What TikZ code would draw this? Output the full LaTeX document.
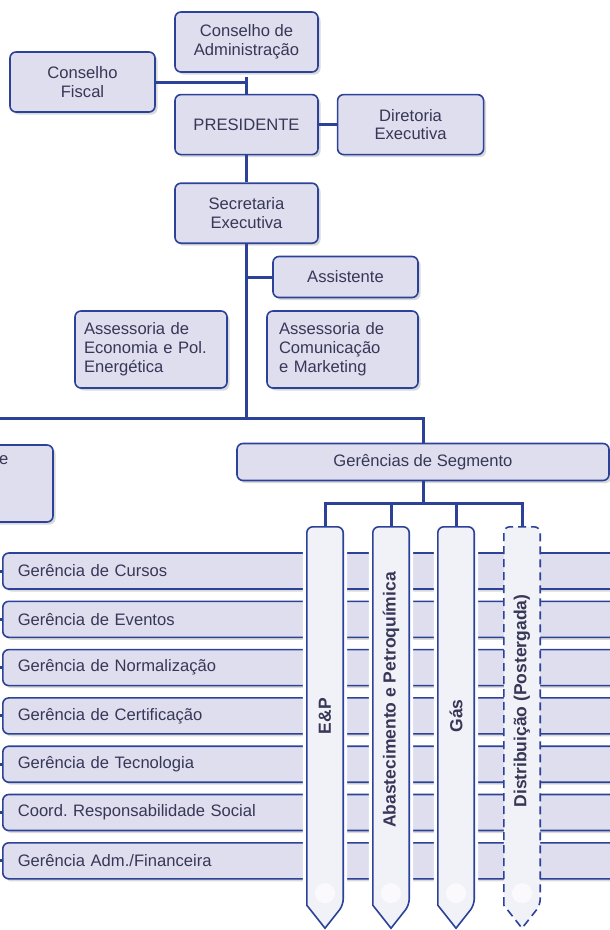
\documentclass[tikz,border=0pt]{standalone}
\usepackage{fontspec}
\setmainfont{Liberation Sans}
\usepackage{graphicx}
\usepackage{tikz}
\usetikzlibrary{positioning, shadows}

\definecolor{azul}{RGB}{44,66,152}
\definecolor{lilas}{RGB}{222,222,238}
\definecolor{claro}{RGB}{241,241,248}
\definecolor{tinta}{RGB}{55,55,88}
\newcommand{\letra}{\fontsize{16.6}{18.8}\selectfont}
\newcommand{\letrab}{\fontsize{17.5}{19}\selectfont\bfseries}
\pgfdeclarelayer{frente}
\pgfsetlayers{main,frente}
\frenchspacing

\begin{document}
\begin{tikzpicture}[x=1pt, y=-1pt, node distance=20pt, font=\letra]
        \tikzset{
            % Define style for boxes
            caixa/.style={
                    rectangle,
                    rounded corners=6pt,
                    draw=azul, line width=1.6pt,
                    fill=lilas, text=tinta,
                    minimum width=143pt,
                    minimum height=60pt,
                    align=center,
                    drop shadow={shadow xshift=2.5pt, shadow yshift=-2.5pt,
                                 opacity=.25, fill=black!60}},
            % Boxes with text set to the left
            caixaesq/.style={
                    caixa,
                    align=left,
                    minimum height=77pt},
            % Define style for the long bars
            barra/.style={
                    caixa,
                    anchor=west,
                    minimum width=660pt,
                    minimum height=36pt,
                    inner xsep=15pt,
                    text width=630pt,
                    align=left},
            % Define style for the segment columns
            pilar/.style={
                    rectangle,
                    minimum width=36pt,
                    minimum height=378pt,
                    inner sep=0pt,
                    text=tinta,
                    font=\letrab},
            contorno/.style={
                    draw=azul, line width=1.6pt,
                    fill=claro,
                    rounded corners=6pt},
            halo/.style={
                    preaction={draw=white, line width=8pt}},
            tracejado/.style={
                    dashed,
                    dash pattern=on 8pt off 5pt},
            % Define line style
            liga/.style={
                    draw=azul,
                    line width=3pt},
        }
        \useasboundingbox (0,0) rectangle (610,930);
        \clip (0,0) rectangle (610,930);

        % Draw the top boxes
        \node[caixa] (admin) at (246.5,42) {Conselho de\\Administração};
        \node[caixa, below=21pt of admin] (pres) {PRESIDENTE};
        \node[caixa, below=27pt of pres] (secr) {Secretaria\\Executiva};
        \node[caixa, right=18pt of pres, minimum width=146pt] (diret) {Diretoria\\Executiva};
        \node[caixa, minimum width=145pt] (fiscal) at (82.5,82) {Conselho\\Fiscal};
        \node[caixa, minimum width=145pt, minimum height=41pt] (assist) at (345.5,277) {Assistente};
        \node[caixaesq, text width=134pt, inner xsep=9pt] (econ) at (151,349.5)
            {Assessoria de\\Economia e Pol.\\Energética};
        \node[caixaesq, text width=127pt, inner xsep=12pt] (comun) at (342.5,349.5)
            {Assessoria de\\Comunicação\\e Marketing};

        % Draw the middle boxes
        \node[caixa, minimum width=372pt, minimum height=37pt] (seg) at (423,462) {Gerências de Segmento};
        \node[caixa, minimum width=150pt, minimum height=77pt] (outra) at (-22,483.5) {};
        \node[text=tinta, anchor=base west, inner sep=0pt] (outra-t) at (-1,464) {e};

        % Draw the bars
        \foreach \nome [count=\i from 0] in {Gerência de Cursos, Gerência de Eventos,
                Gerência de Normalização, Gerência de Certificação, Gerência de Tecnologia,
                Coord. Responsabilidade Social, Gerência Adm./Financeira}
            \node[barra] (g\i) at (2, 571+48.3*\i) {\nome};
        \foreach \i in {0,...,6}
            \draw[liga] (g\i.west) -- ++(-10,0);

        % Draw the segment columns
        \begin{pgfonlayer}{frente}
            \node[pilar] (ep) at (325,716) {\rotatebox{90}{E\&P}};
            \node[pilar] (abast) at (391,716) {\rotatebox{90}{\hspace*{32pt}Abastecimento e Petroquímica}};
            \node[pilar] (gas) at (456,716) {\rotatebox{90}{Gás}};
            \node[pilar] (dist) at (522,716) {\rotatebox{90}{\hspace*{30pt}Distribuição (Postergada)}};
        \end{pgfonlayer}
        \foreach \p/\s in {ep/halo, abast/halo, gas/halo, dist/tracejado} {
            \path[contorno, \s] (\p.south west) -- (\p.north west) -- (\p.north east)
                -- (\p.south east) [sharp corners] -- ([yshift=-23pt]\p.south) -- cycle;
            \fill[white, opacity=.7] ([yshift=12pt]\p.south) circle (10);
        }

        % Connect the boxes
        \coordinate (esq) at (-10,418);
        \coordinate (jun) at (423,503);
        \draw[liga] (fiscal.east) -- (fiscal.east -| pres.north);
        \draw[liga] ([yshift=17pt]pres.north) -- (pres.north);
        \draw[liga] (pres.east) -- (diret.west);
        \draw[liga] (pres.south) -- (secr.north);
        \draw[liga] (secr.south) -- (secr.south |- esq);
        \draw[liga] (assist.west) -- (assist.west -| secr.south);
        \draw[liga] (esq) -| (seg.north);
        \draw[liga] (seg.south) -- (jun);
        \draw[liga] (ep.north) |- (jun) -| (dist.north);
        \draw[liga] (abast.north) -- (abast.north |- jun);
        \draw[liga] (gas.north) -- (gas.north |- jun);

    \end{tikzpicture}
\end{document}
